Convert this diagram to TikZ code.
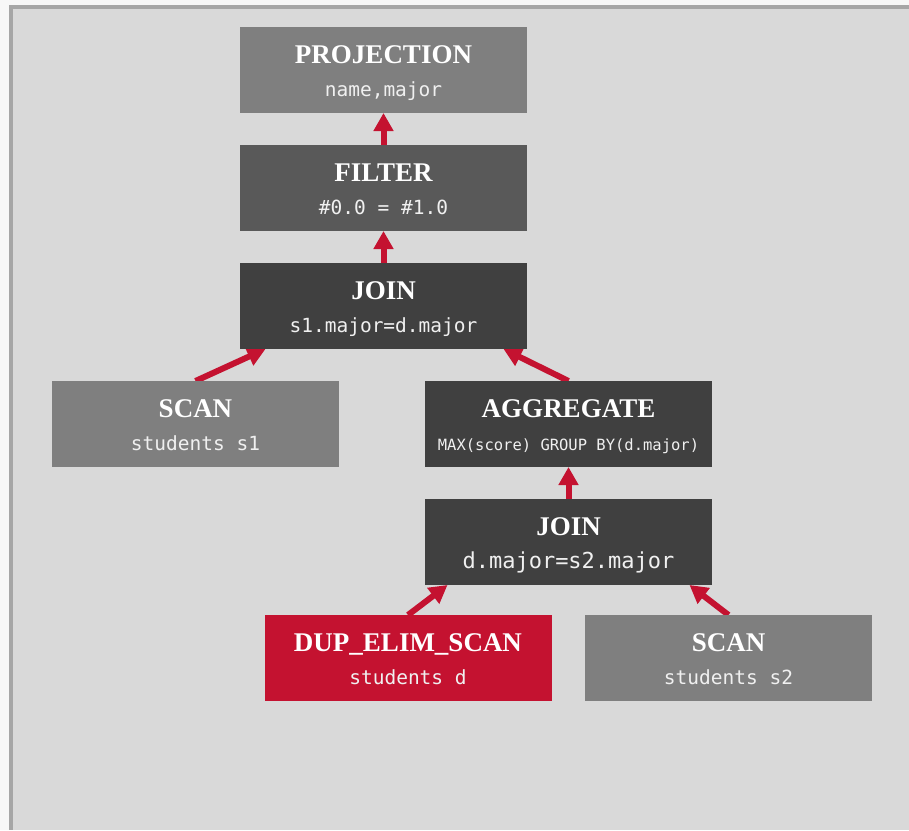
\documentclass[tikz,border=0pt]{standalone}
\usepackage{fontspec}
\setmainfont{Liberation Serif}
\newfontfamily\opmono{DejaVu Sans Mono}
\usetikzlibrary{arrows.meta,positioning,backgrounds}

\definecolor{pagewhite}{HTML}{F7F7F7}
\definecolor{framegray}{HTML}{A6A6A6}
\definecolor{panelgray}{HTML}{D9D9D9}
\definecolor{oplight}{HTML}{7F7F7F}
\definecolor{opmid}{HTML}{595959}
\definecolor{opdark}{HTML}{404040}
\definecolor{opred}{HTML}{C41230}

\newcommand{\opttl}{\rmfamily\fontsize{27}{30}\selectfont\bfseries}
\newcommand{\opsub}{\opmono\fontsize{19.5}{23}\selectfont}
\newcommand{\opsmall}{\fontsize{15.5}{18}\selectfont}
\newcommand{\oplarge}{\fontsize{22}{25}\selectfont}
\newcommand{\optext}[2]{{\opttl\rule{0pt}{24pt}#1}\\[10pt]{\opsub\color{white!94!black}\rule[-5pt]{0pt}{5pt}#2}}

\begin{document}
\begin{tikzpicture}[
  x=1pt, y=-1pt,
  >={Triangle[width=19pt,length=18pt]},
  node distance=32pt and 32pt,
  op/.style={minimum width=287pt, minimum height=86pt, inner sep=0pt, outer sep=0pt, align=center, text=white, font=\opsub},
  flow/.style={->, draw=opred, fill=opred, line width=6pt}
]
\useasboundingbox (0,0) rectangle (909,830);

\node[op, fill=oplight] (proj) at (383.5,70) {\optext{PROJECTION}{name,major}};
\node[op, fill=opmid, below=of proj] (filter) {\optext{FILTER}{\#0.0 = \#1.0}};
\node[op, fill=opdark, below=of filter] (join1) {\optext{JOIN}{s1.major=d.major}};
\node[op, fill=oplight] (scan1) at (195.5,424) {\optext{SCAN}{students s1}};
\node[op, fill=opdark] (agg) at (568.5,424) {\optext{AGGREGATE}{\opsmall MAX(score) GROUP BY(d.major)}};
\node[op, fill=opdark, below=of agg] (join2) {\optext{JOIN}{\oplarge d.major=s2.major}};
\node[op, fill=opred] (dup) at (408,658) {\optext{DUP\_ELIM\_SCAN}{students d}};
\node[op, fill=oplight] (scan2) at (728.5,658) {\optext{SCAN}{students s2}};

\begin{scope}[on background layer]
  % page frame
  \fill[pagewhite] (0,0) rectangle (909,830);
  \fill[framegray] (9,5) rectangle (909,830);
  \fill[panelgray] (13,9) rectangle (909,830);
  % data flow
  \draw[flow] (filter) -- (proj);
  \draw[flow] (join1) -- (filter);
  \draw[flow] (scan1.north) -- ([xshift=-118pt]join1.south);
  \draw[flow] (agg.north) -- ([xshift=120pt]join1.south);
  \draw[flow] (join2) -- (agg);
  \draw[flow] (dup.north) -- ([xshift=-121pt]join2.south);
  \draw[flow] (scan2.north) -- ([xshift=121pt]join2.south);
\end{scope}
\end{tikzpicture}
\end{document}
